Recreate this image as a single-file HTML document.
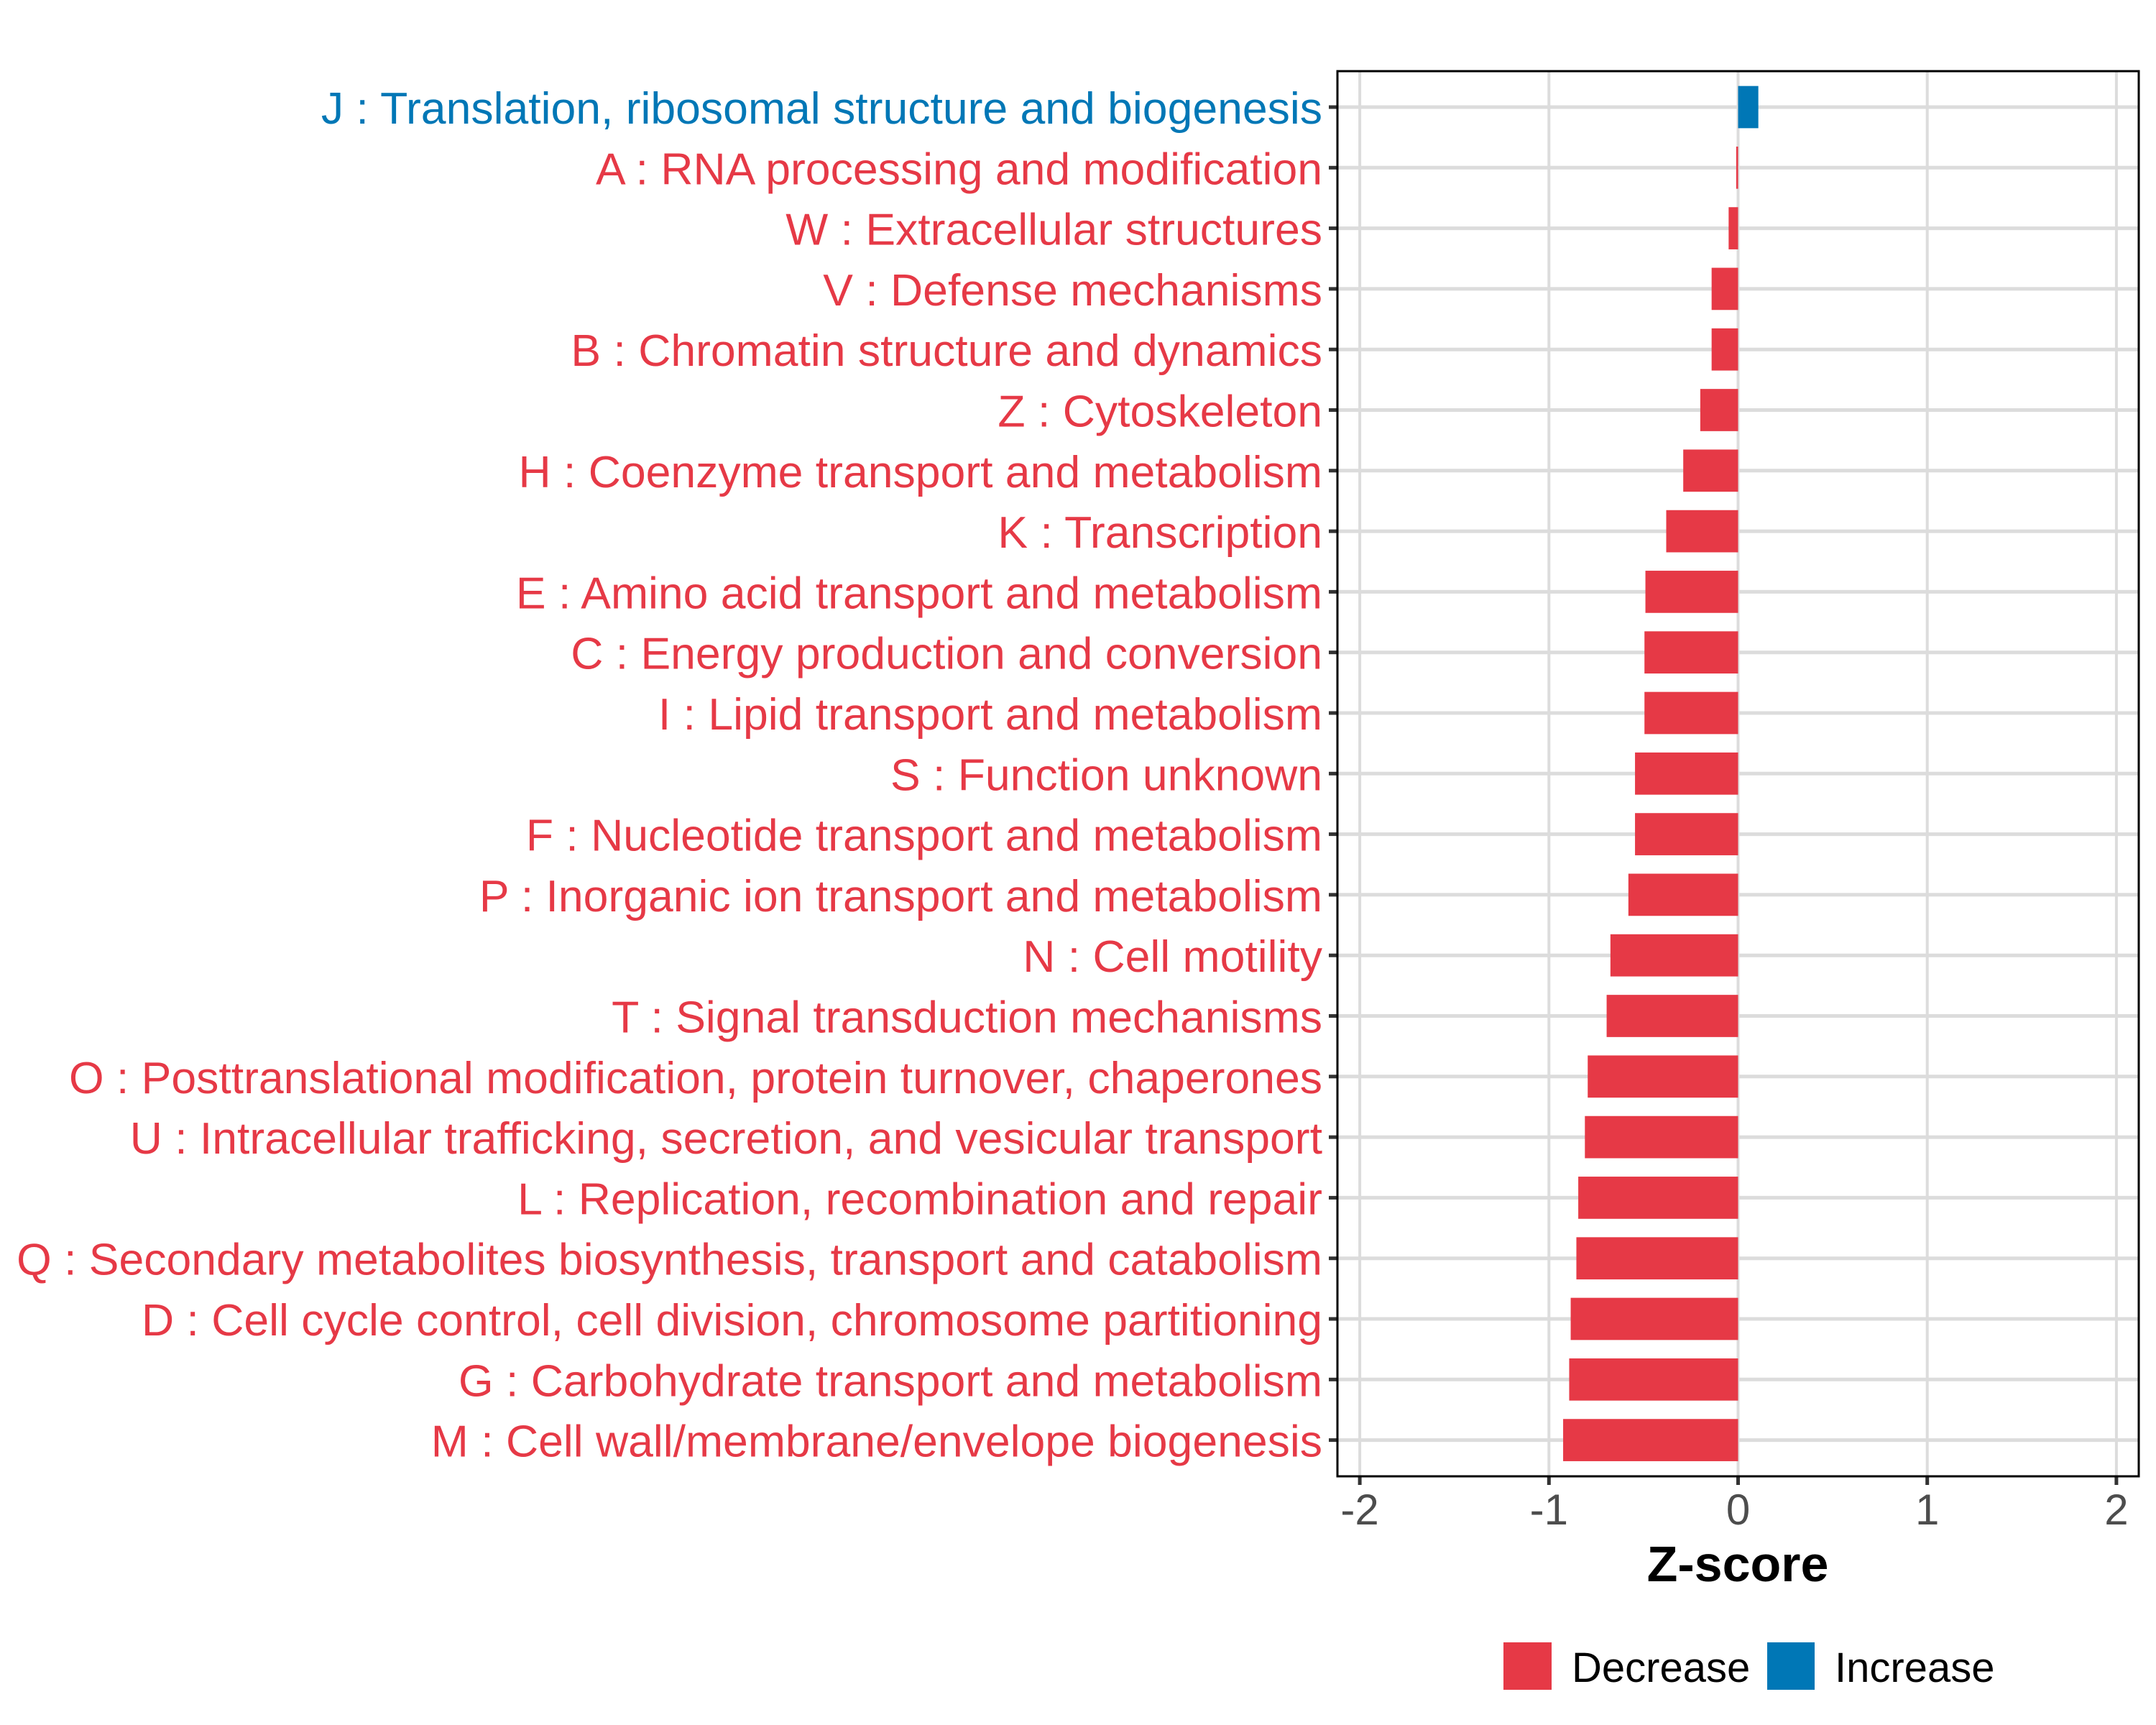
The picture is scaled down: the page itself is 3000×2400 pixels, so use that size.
<!DOCTYPE html>
<html><head><meta charset="utf-8"><style>
html,body{margin:0;padding:0;background:#fff;}
svg{display:block;font-family:"Liberation Sans",Arial,sans-serif;}
</style></head><body>
<svg id="chart" width="3000" height="2400" viewBox="0 0 3000 2400" xmlns="http://www.w3.org/2000/svg">
<rect width="3000" height="2400" fill="#fff"/>
<g id="grid"></g><g id="bars"></g><g id="ylabels"></g><g id="xaxis"></g>
<rect x="1861" y="99" width="1115" height="1955" fill="none" stroke="#000" stroke-width="3"/>
<text x="2418" y="2200" font-size="70" font-weight="bold" text-anchor="middle" fill="#000">Z-score</text>
<g>
<rect x="2092" y="2285" width="67" height="66" fill="#E63946"/>
<text x="2187" y="2340" font-size="58" fill="#000">Decrease</text>
<rect x="2459" y="2285" width="66" height="66" fill="#0077B6"/>
<text x="2553" y="2340" font-size="58" fill="#000">Increase</text>
</g>
</svg>
<script>
const categories=["J : Translation, ribosomal structure and biogenesis","A : RNA processing and modification","W : Extracellular structures","V : Defense mechanisms","B : Chromatin structure and dynamics","Z : Cytoskeleton","H : Coenzyme transport and metabolism","K : Transcription","E : Amino acid transport and metabolism","C : Energy production and conversion","I : Lipid transport and metabolism","S : Function unknown","F : Nucleotide transport and metabolism","P : Inorganic ion transport and metabolism","N : Cell motility","T : Signal transduction mechanisms","O : Posttranslational modification, protein turnover, chaperones","U : Intracellular trafficking, secretion, and vesicular transport","L : Replication, recombination and repair","Q : Secondary metabolites biosynthesis, transport and catabolism","D : Cell cycle control, cell division, chromosome partitioning","G : Carbohydrate transport and metabolism","M : Cell wall/membrane/envelope biogenesis"];
const zscores=[0.107,-0.01,-0.05,-0.14,-0.14,-0.2,-0.29,-0.38,-0.49,-0.495,-0.495,-0.545,-0.545,-0.58,-0.675,-0.695,-0.795,-0.81,-0.845,-0.855,-0.885,-0.893,-0.925];
const xTicks=[-2,-1,0,1,2];
const NS="http://www.w3.org/2000/svg";
const x=v=>2418.5+v*263.2;
const y=i=>149+i*84.3;
const bandH=58.7;
function mk(tag,attrs,parent){const e=document.createElementNS(NS,tag);for(const k in attrs)e.setAttribute(k,attrs[k]);parent.appendChild(e);return e;}
const grid=document.getElementById('grid'),bars=document.getElementById('bars'),yl=document.getElementById('ylabels'),xa=document.getElementById('xaxis');
xTicks.forEach(t=>{
 const g=mk('line',{x1:x(t),x2:x(t),y1:99,y2:2054,stroke:'#dcdcdc','stroke-width':4},grid);
 
 
 const tk=mk('line',{x1:x(t),x2:x(t),y1:2054,y2:2066,stroke:'#333','stroke-width':5},xa);
 
 
 const lb=mk('text',{x:x(t),y:2121,'font-size':60,'text-anchor':'middle',fill:'#4d4d4d'},xa);
 lb.textContent=String(t);
 
 
});
categories.forEach((c,i)=>{
 const gl=mk('line',{x1:1861,x2:2976,y1:y(i),y2:y(i),stroke:'#dcdcdc','stroke-width':5},grid);
 
 
 const v=zscores[i];const col=v>=0?'#0077B6':'#E63946';
 const b=mk('rect',{x:Math.min(x(0),x(v)),y:y(i)-bandH/2,width:Math.max(Math.abs(x(v)-x(0)),2),height:bandH,fill:col},bars);
 
 
 const tk=mk('line',{x1:1849,x2:1861,y1:y(i),y2:y(i),stroke:'#333','stroke-width':5},yl);
 
 
 const t=mk('text',{x:1840,y:y(i)+23,'font-size':62.5,'text-anchor':'end',fill:col},yl);
 t.textContent=c;
 
 
});
</script>
</body></html>
